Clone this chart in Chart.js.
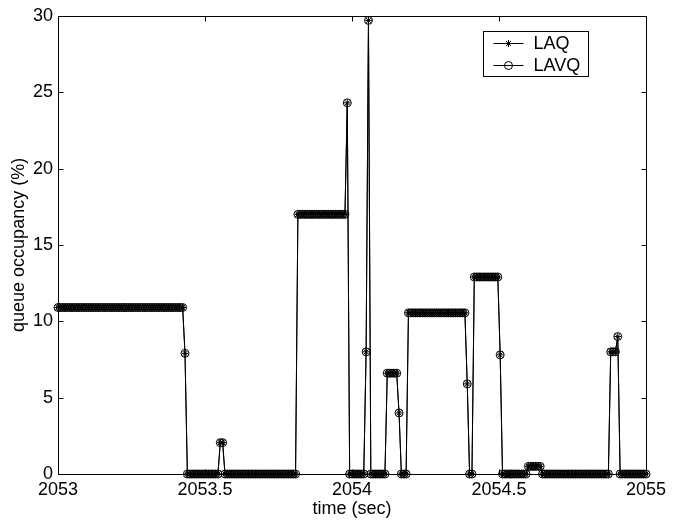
<!DOCTYPE html>
<html lang="en">

<head>
  <meta charset="UTF-8" />
  <title>queue occupancy</title>
  <script src="https://cdn.jsdelivr.net/npm/chart.js@4.4.1/dist/chart.umd.min.js"></script>
  <style>
    body { margin: 0; background: #fff; }
    #wrap { width: 680px; height: 521px; }
  </style>
</head>

<body>
  <div id="wrap"><canvas id="queueChart" width="680" height="521"></canvas></div>

  <script>
    // sample times (sec)
    const time = [
      2053.000, 2053.008, 2053.016, 2053.024, 2053.032, 2053.040, 2053.048, 2053.056, 2053.064, 2053.072,
      2053.080, 2053.088, 2053.096, 2053.104, 2053.112, 2053.120, 2053.128, 2053.136, 2053.144, 2053.152,
      2053.160, 2053.168, 2053.176, 2053.184, 2053.192, 2053.200, 2053.208, 2053.216, 2053.224, 2053.232,
      2053.240, 2053.248, 2053.256, 2053.264, 2053.272, 2053.280, 2053.288, 2053.296, 2053.304, 2053.312,
      2053.320, 2053.328, 2053.336, 2053.344, 2053.352, 2053.360, 2053.368, 2053.376, 2053.384, 2053.392,
      2053.400, 2053.408, 2053.416, 2053.424, 2053.432, 2053.440, 2053.448, 2053.456, 2053.464, 2053.472,
      2053.480, 2053.488, 2053.496, 2053.504, 2053.512, 2053.520, 2053.528, 2053.536, 2053.544, 2053.552,
      2053.560, 2053.568, 2053.576, 2053.584, 2053.592, 2053.600, 2053.608, 2053.616, 2053.624, 2053.632,
      2053.640, 2053.648, 2053.656, 2053.664, 2053.672, 2053.680, 2053.688, 2053.696, 2053.704, 2053.712,
      2053.720, 2053.728, 2053.736, 2053.744, 2053.752, 2053.760, 2053.768, 2053.776, 2053.784, 2053.792,
      2053.800, 2053.808, 2053.816, 2053.824, 2053.832, 2053.840, 2053.848, 2053.856, 2053.864, 2053.872,
      2053.880, 2053.888, 2053.896, 2053.904, 2053.912, 2053.920, 2053.928, 2053.936, 2053.944, 2053.952,
      2053.960, 2053.968, 2053.976, 2053.984, 2053.992, 2054.000, 2054.008, 2054.016, 2054.024, 2054.032,
      2054.040, 2054.048, 2054.056, 2054.064, 2054.072, 2054.080, 2054.088, 2054.096, 2054.104, 2054.112,
      2054.120, 2054.128, 2054.136, 2054.144, 2054.152, 2054.160, 2054.168, 2054.176, 2054.184, 2054.192,
      2054.200, 2054.208, 2054.216, 2054.224, 2054.232, 2054.240, 2054.248, 2054.256, 2054.264, 2054.272,
      2054.280, 2054.288, 2054.296, 2054.304, 2054.312, 2054.320, 2054.328, 2054.336, 2054.344, 2054.352,
      2054.360, 2054.368, 2054.376, 2054.384, 2054.392, 2054.400, 2054.408, 2054.416, 2054.424, 2054.432,
      2054.440, 2054.448, 2054.456, 2054.464, 2054.472, 2054.480, 2054.488, 2054.496, 2054.504, 2054.512,
      2054.520, 2054.528, 2054.536, 2054.544, 2054.552, 2054.560, 2054.568, 2054.576, 2054.584, 2054.592,
      2054.600, 2054.608, 2054.616, 2054.624, 2054.632, 2054.640, 2054.648, 2054.656, 2054.664, 2054.672,
      2054.680, 2054.688, 2054.696, 2054.704, 2054.712, 2054.720, 2054.728, 2054.736, 2054.744, 2054.752,
      2054.760, 2054.768, 2054.776, 2054.784, 2054.792, 2054.800, 2054.808, 2054.816, 2054.824, 2054.832,
      2054.840, 2054.848, 2054.856, 2054.864, 2054.872, 2054.880, 2054.888, 2054.896, 2054.904, 2054.912,
      2054.920, 2054.928, 2054.936, 2054.944, 2054.952, 2054.960, 2054.968, 2054.976, 2054.984, 2054.992,
      2055.000
    ];

    // queue occupancy (%) - LAQ
    const laq = [
      10.9, 10.9, 10.9, 10.9, 10.9, 10.9, 10.9, 10.9, 10.9, 10.9,
      10.9, 10.9, 10.9, 10.9, 10.9, 10.9, 10.9, 10.9, 10.9, 10.9,
      10.9, 10.9, 10.9, 10.9, 10.9, 10.9, 10.9, 10.9, 10.9, 10.9,
      10.9, 10.9, 10.9, 10.9, 10.9, 10.9, 10.9, 10.9, 10.9, 10.9,
      10.9, 10.9, 10.9, 10.9, 10.9, 10.9, 10.9, 10.9, 10.9, 10.9,
      10.9, 10.9, 10.9, 10.9, 7.9, 0, 0, 0, 0, 0,
      0, 0, 0, 0, 0, 0, 0, 0, 0, 2.05,
      2.05, 0, 0, 0, 0, 0, 0, 0, 0, 0,
      0, 0, 0, 0, 0, 0, 0, 0, 0, 0,
      0, 0, 0, 0, 0, 0, 0, 0, 0, 0,
      0, 0, 17, 17, 17, 17, 17, 17, 17, 17,
      17, 17, 17, 17, 17, 17, 17, 17, 17, 17,
      17, 17, 17, 24.3, 0, 0, 0, 0, 0, 0,
      0, 8, 29.7, 0, 0, 0, 0, 0, 0, 0,
      6.6, 6.6, 6.6, 6.6, 6.6, 4, 0, 0, 0, 10.55,
      10.55, 10.55, 10.55, 10.55, 10.55, 10.55, 10.55, 10.55, 10.55, 10.55,
      10.55, 10.55, 10.55, 10.55, 10.55, 10.55, 10.55, 10.55, 10.55, 10.55,
      10.55, 10.55, 10.55, 10.55, 5.9, 0, 0, 12.9, 12.9, 12.9,
      12.9, 12.9, 12.9, 12.9, 12.9, 12.9, 12.9, 12.9, 7.8, 0,
      0, 0, 0, 0, 0, 0, 0, 0, 0, 0,
      0.5, 0.5, 0.5, 0.5, 0.5, 0.5, 0, 0, 0, 0,
      0, 0, 0, 0, 0, 0, 0, 0, 0, 0,
      0, 0, 0, 0, 0, 0, 0, 0, 0, 0,
      0, 0, 0, 0, 0, 8, 8, 8, 9, 0,
      0, 0, 0, 0, 0, 0, 0, 0, 0, 0,
      0
    ];

    // LAVQ lies exactly on top of LAQ in the figure
    const lavq = laq.slice();

    const xTicks = [2053, 2053.5, 2054, 2054.5, 2055];
    const yTicks = [0, 5, 10, 15, 20, 25, 30];

    const FONT = "'Liberation Sans', Arial, Helvetica, sans-serif";

    function toPoints(values) {
      return values.map((v, i) => ({ x: time[i], y: v }));
    }

    function drawMarker(ctx, style, r, cx, cy) {
      ctx.beginPath();
      if (style === 'circle') {
        ctx.arc(cx, cy, r, 0, Math.PI * 2);
      } else {
        for (let k = 0; k < 4; k++) {
          const a = k * Math.PI / 4;
          const dx = Math.cos(a) * r, dy = Math.sin(a) * r;
          ctx.moveTo(cx - dx, cy - dy);
          ctx.lineTo(cx + dx, cy + dy);
        }
      }
      ctx.stroke();
    }

    // matlab look: closed box, ticks pointing in, boxed legend top right
    const matlabBox = {
      id: 'matlabBox',
      afterDatasetsDraw(chart) {
        const { ctx, chartArea: a, scales } = chart;
        const L = Math.round(a.left) + 0.5, R = Math.round(a.right) + 0.5;
        const T = Math.round(a.top) + 0.5, B = Math.round(a.bottom) + 0.5;
        ctx.save();
        ctx.strokeStyle = '#000';
        ctx.lineWidth = 1;
        ctx.strokeRect(L, T, R - L, B - T);

        ctx.beginPath();
        xTicks.forEach(v => {
          const px = Math.round(scales.x.getPixelForValue(v)) + 0.5;
          ctx.moveTo(px, B); ctx.lineTo(px, B - 5);
          ctx.moveTo(px, T); ctx.lineTo(px, T + 5);
        });
        yTicks.forEach(v => {
          const py = Math.round(scales.y.getPixelForValue(v)) + 0.5;
          ctx.moveTo(L, py); ctx.lineTo(L + 5, py);
          ctx.moveTo(R, py); ctx.lineTo(R - 5, py);
        });
        ctx.stroke();

        // legend
        const lx = 483.5, ly = 31.5, lw = 105, lh = 45;
        ctx.fillStyle = '#fff';
        ctx.fillRect(lx, ly, lw, lh);
        ctx.strokeRect(lx, ly, lw, lh);
        ctx.font = '18px ' + FONT;
        ctx.textBaseline = 'middle';
        chart.data.datasets.forEach((ds, i) => {
          const cy = Math.round(ly + 11.5 + i * 21.6) + 0.5;
          ctx.strokeStyle = '#000';
          ctx.beginPath();
          ctx.moveTo(lx + 10, cy);
          ctx.lineTo(lx + 40, cy);
          ctx.stroke();
          drawMarker(ctx, ds.pointStyle, ds.pointRadius, lx + 25, cy);
          ctx.fillStyle = '#000';
          ctx.fillText(ds.label, lx + 50, cy + 1);
        });
        ctx.restore();
      }
    };

    const queueChart = new Chart(document.getElementById('queueChart').getContext('2d'), {
      type: 'line',
      data: {
        datasets: [
          {
            label: 'LAQ',
            data: toPoints(laq),
            borderColor: '#000',
            borderWidth: 1,
            pointStyle: 'star',
            pointRadius: 3.5,
            pointBorderColor: '#000',
            pointBackgroundColor: 'rgba(0,0,0,0)',
            pointBorderWidth: 1,
            tension: 0,
            clip: false
          },
          {
            label: 'LAVQ',
            data: toPoints(lavq),
            borderColor: '#000',
            borderWidth: 1,
            pointStyle: 'circle',
            pointRadius: 4,
            pointBorderColor: '#000',
            pointBackgroundColor: 'rgba(0,0,0,0)',
            pointBorderWidth: 1,
            tension: 0,
            clip: false
          }
        ]
      },
      options: {
        responsive: false,
        animation: false,
        layout: { padding: { top: 10, right: 34, left: 0, bottom: 0 } },
        plugins: {
          legend: { display: false },
          tooltip: { enabled: false }
        },
        scales: {
          x: {
            type: 'linear',
            min: 2053,
            max: 2055,
            afterBuildTicks: s => { s.ticks = xTicks.map(v => ({ value: v })); },
            afterFit: s => { s.height = 47; },
            grid: { display: false, drawTicks: false },
            border: { display: false },
            ticks: {
              color: '#000',
              font: { family: FONT, size: 18 },
              padding: 5,
              maxRotation: 0,
              autoSkip: false,
              callback: v => String(v)
            },
            title: {
              display: true,
              text: 'time (sec)',
              color: '#000',
              font: { family: FONT, size: 18 },
              padding: { top: 0, bottom: 1 }
            }
          },
          y: {
            type: 'linear',
            min: 0,
            max: 30,
            afterBuildTicks: s => { s.ticks = yTicks.map(v => ({ value: v })); },
            afterFit: s => { s.width = 58; },
            grid: { display: false, drawTicks: false },
            border: { display: false },
            ticks: {
              color: '#000',
              font: { family: FONT, size: 18 },
              padding: 5,
              callback: v => String(v)
            },
            title: {
              display: true,
              text: 'queue occupancy (%)',
              color: '#000',
              font: { family: FONT, size: 18 },
              padding: { top: 8, bottom: 0 }
            }
          }
        }
      },
      plugins: [matlabBox]
    });
  </script>
</body>

</html>
